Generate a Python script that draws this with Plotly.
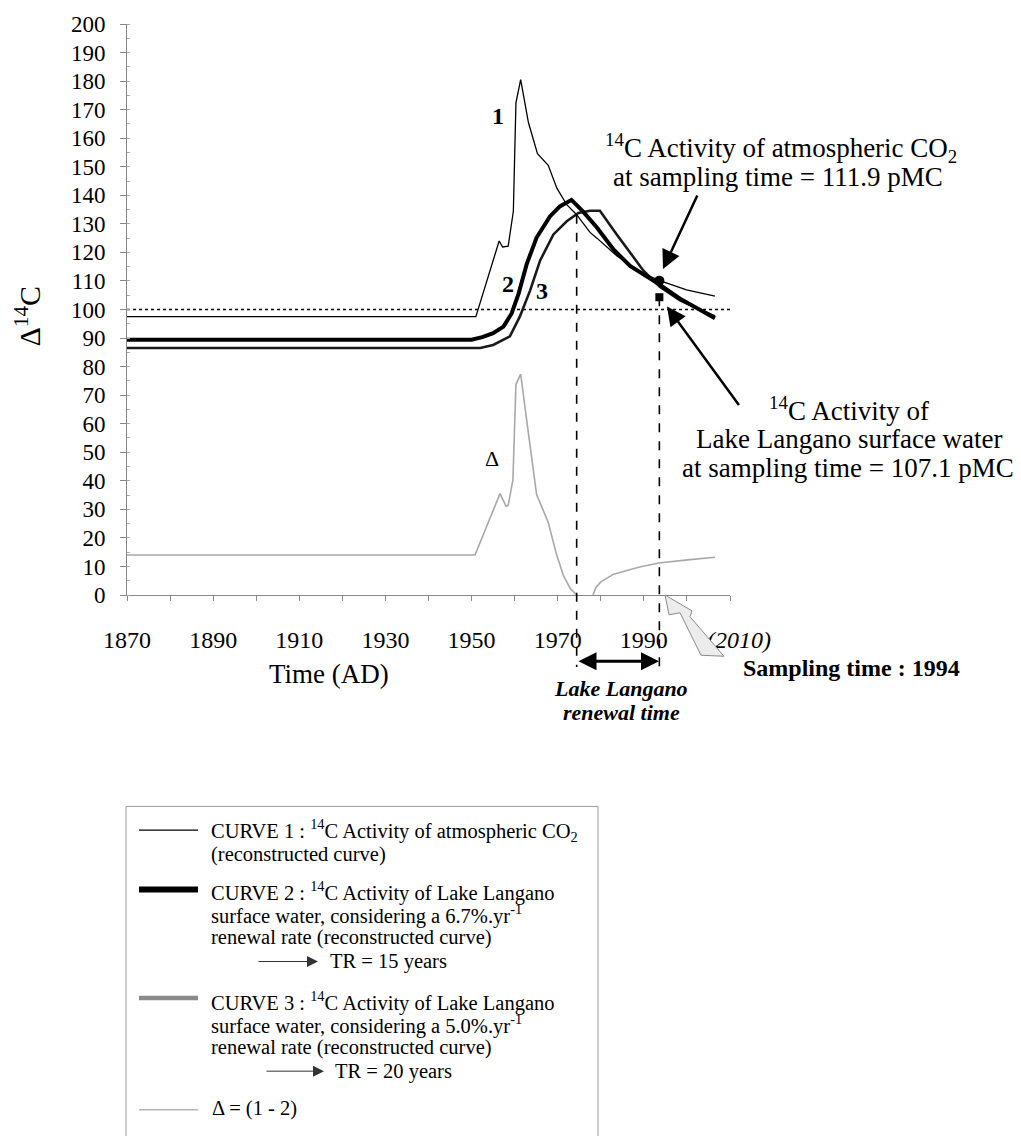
import plotly.graph_objects as go

# ---------------- data ----------------
yr_c1 = [1870, 1951.0, 1956.4, 1957.2, 1958.5, 1959.7, 1960.3, 1961.4, 1963.2, 1965.3,
         1967.8, 1969.8, 1972.1, 1974.4, 1977.5, 1979.1, 1983.7, 1989.1, 1993.7, 1999.9, 2006.5]
c1 = [97.5, 97.5, 124.0, 121.9, 122.2, 134.4, 172.4, 180.5, 165.5, 154.6,
      150.5, 142.5, 136.7, 133.2, 127.0, 125.0, 118.8, 113.1, 110.1, 106.9, 104.7]

yr_c2 = [1870, 1950.0, 1952.5, 1955.0, 1957.4, 1959.3, 1960.9, 1962.8, 1965.1, 1968.2, 1970.5,
         1973.2, 1975.9, 1979.1, 1982.9, 1986.8, 1993.4, 1998.4, 2006.5]
c2 = [89.4, 89.4, 90.3, 91.7, 94.0, 98.6, 105.5, 115.9, 125.2, 132.6, 136.1,
      138.4, 134.3, 128.7, 121.1, 115.3, 109.0, 103.8, 96.9]

yr_c3 = [1870, 1952.0, 1955.0, 1958.9, 1961.2, 1963.6, 1965.9, 1969.0, 1972.1, 1974.8, 1977.5,
         1979.8, 1983.7, 1986.8, 1989.9, 1993.7, 1998.4, 2006.5]
c3 = [86.5, 86.5, 87.6, 90.6, 97.5, 106.7, 117.1, 126.3, 130.9, 133.8, 134.6,
      134.6, 126.3, 120.0, 113.6, 108.0, 103.2, 97.6]

yr_d1 = [1870, 1950.8, 1956.6, 1958.0, 1958.5, 1959.6, 1960.3, 1961.4, 1962.9, 1965.1,
         1967.8, 1969.8, 1971.3, 1972.9, 1974.4]
d1 = [14.0, 14.0, 35.5, 31.1, 31.4, 40.3, 73.8, 77.4, 60.0, 35.2,
      25.4, 13.8, 6.9, 2.3, 0.0]
yr_d2 = [1978.2, 1978.8, 1980.0, 1983.0, 1989.0, 1993.5, 2000.7, 2006.5]
d2 = [0.0, 2.5, 4.6, 7.3, 9.8, 11.2, 12.4, 13.2]

ref_level = 100
renewal_year = 1974.4
sampling_year = 1993.6
atm_at_sampling = 110.1
lake_at_sampling = 104.3
renewal_top = 133.2

x_tickvals = [1870, 1890, 1910, 1930, 1950, 1970, 1990, 2010]
x_ticktext = ["1870", "1890", "1910", "1930", "1950", "1970", "1990",
              "\u00a0\u00a0\u00a0<i>(2010)</i>"]
y_tickvals = list(range(0, 201, 10))

# ---------------- layout helpers ----------------
W, H = 1021, 1136
L, R, T, B = 127, 730, 17, 595
XMIN, XMAX, YMIN, YMAX = 1870, 2010, 0, 200
FONT = "Liberation Serif, Times New Roman, serif"


def px(x):
    return (x - L) / (R - L)


def py(y):
    return (B - y) / (B - T)


def xp(year):
    return (year - XMIN) / (XMAX - XMIN)


def yp(v):
    return (v - YMIN) / (YMAX - YMIN)


fig = go.Figure()
fig.add_trace(go.Scatter(x=[XMIN, XMAX], y=[ref_level, ref_level], mode="lines",
                         line=dict(color="black", width=1.3, dash="dot"), hoverinfo="skip"))
fig.add_trace(go.Scatter(x=yr_d1, y=d1, mode="lines", line=dict(color="#a8a8a8", width=1.6)))
fig.add_trace(go.Scatter(x=yr_d2, y=d2, mode="lines", line=dict(color="#a8a8a8", width=1.6)))
fig.add_trace(go.Scatter(x=yr_c3, y=c3, mode="lines", line=dict(color="#1a1a1a", width=2.6)))
fig.add_trace(go.Scatter(x=yr_c2, y=c2, mode="lines", line=dict(color="black", width=4)))
fig.add_trace(go.Scatter(x=yr_c1, y=c1, mode="lines", line=dict(color="black", width=1.3)))
fig.add_trace(go.Scatter(x=[sampling_year], y=[atm_at_sampling], mode="markers",
                         marker=dict(symbol="circle", size=10, color="black")))
fig.add_trace(go.Scatter(x=[sampling_year], y=[lake_at_sampling], mode="markers",
                         marker=dict(symbol="square", size=8, color="black")))

shapes = []
# dashed verticals
shapes.append(dict(type="line", xref="paper", yref="paper", x0=xp(renewal_year), x1=xp(renewal_year),
                   y0=yp(renewal_top), y1=py(668), line=dict(color="black", width=1.6, dash="dash")))
shapes.append(dict(type="line", xref="paper", yref="paper", x0=xp(sampling_year), x1=xp(sampling_year),
                   y0=yp(lake_at_sampling), y1=py(668), line=dict(color="black", width=1.6, dash="dash")))

# grey block arrow pointing to the sampling date on the axis
blk = [(665, 595), (669, 615), (680, 613), (701, 656), (724, 657),
       (690, 617), (692, 611)]
path = "M " + " L ".join(f"{px(a):.5f},{py(b):.5f}" for a, b in blk) + " Z"
shapes.append(dict(type="path", xref="paper", yref="paper", path=path,
                   fillcolor="#ececec", line=dict(color="#8a8a8a", width=1)))

# legend box
shapes.append(dict(type="rect", xref="paper", yref="paper", x0=px(126), x1=px(598),
                   y0=py(1145), y1=py(809), line=dict(color="#9a9a9a", width=1)))
for ly, col, wd in [(833, "black", 1.3), (893, "black", 6), (1003, "#8a8a8a", 4.5), (1116, "#b5b5b5", 1.6)]:
    shapes.append(dict(type="line", xref="paper", yref="paper", x0=px(139), x1=px(198),
                       y0=py(ly), y1=py(ly), line=dict(color=col, width=wd)))

ann = []


def text(x, y, s, size, xanchor="center", bold=False, italic=False, angle=0):
    if bold:
        s = "<b>" + s + "</b>"
    if italic:
        s = "<i>" + s + "</i>"
    ann.append(dict(x=px(x), y=py(y), xref="paper", yref="paper", text=s, showarrow=False,
                    xanchor=xanchor, yanchor="middle", textangle=angle,
                    font=dict(family=FONT, size=size, color="black")))


def arrow(tx, ty, sx, sy, width=2.5, size=1.5, color="black", side="end"):
    ann.append(dict(x=px(tx), y=py(ty), xref="paper", yref="paper", text="", showarrow=True,
                    ax=sx - tx, ay=sy - ty, axref="pixel", ayref="pixel",
                    arrowhead=2, arrowsize=size, arrowwidth=width, arrowcolor=color,
                    arrowside=side, standoff=0, startstandoff=0))


# axis titles
text(28, 313, "Δ<sup>14</sup>C", 30, angle=-90)
text(329, 675, "Time (AD)", 27)

# curve labels
text(498, 110, "1", 24, bold=True)
text(508, 280, "2", 24, bold=True)
text(542, 287, "3", 24, bold=True)
text(492, 457, "Δ", 22)

# annotations
text(781, 143, "<sup>14</sup>C Activity of atmospheric CO<sub>2</sub>", 27)
text(778, 172, "at sampling time = 111.9 pMC", 27)
arrow(663, 265, 698, 190)
text(849, 407, "<sup>14</sup>C Activity of", 27)
text(849, 437, "Lake Langano surface water", 27)
text(848, 466, "at sampling time = 107.1 pMC", 27)
arrow(667, 303, 740, 403)

text(851, 669, "Sampling time : 1994", 24, bold=True)
arrow(659, 662, 577, 662, width=3, size=1.2, side="end+start")
text(621, 690, "Lake Langano", 22, bold=True, italic=True)
text(621, 714, "renewal time", 22, bold=True, italic=True)

# legend texts
LX = 209
LS = 20.5
text(LX, 833, "CURVE 1 : <sup>14</sup>C Activity of atmospheric CO<sub>2</sub>", LS, xanchor="left")
text(LX, 858, "(reconstructed curve)", LS, xanchor="left")
text(LX, 895, "CURVE 2 : <sup>14</sup>C Activity of Lake Langano", LS, xanchor="left")
text(LX, 918, "surface water, considering a 6.7%.yr<sup>-1</sup>", LS, xanchor="left")
text(LX, 942, "renewal rate (reconstructed curve)", LS, xanchor="left")
arrow(318, 966, 257, 966, width=1, size=2.2, color="#333333")
text(328, 966, "TR = 15 years", LS, xanchor="left")
text(LX, 1006, "CURVE 3 : <sup>14</sup>C Activity of Lake Langano", LS, xanchor="left")
text(LX, 1030, "surface water, considering a 5.0%.yr<sup>-1</sup>", LS, xanchor="left")
text(LX, 1053, "renewal rate (reconstructed curve)", LS, xanchor="left")
arrow(324, 1077, 265, 1077, width=1, size=2.2, color="#333333")
text(333, 1077, "TR = 20 years", LS, xanchor="left")
text(210, 1115, "Δ = (1 - 2)", LS, xanchor="left")

fig.update_layout(
    width=W, height=H,
    margin=dict(l=L, r=W - R, t=T, b=H - B, pad=0),
    paper_bgcolor="white", plot_bgcolor="white",
    showlegend=False,
    font=dict(family=FONT, size=24, color="black"),
    shapes=shapes, annotations=ann,
    xaxis=dict(range=[XMIN, XMAX], tickmode="array", tickvals=x_tickvals, ticktext=x_ticktext,
               ticks="outside", ticklen=5, tickcolor="#888", tickwidth=1,
               minor=dict(dtick=10, tick0=1870, ticks="outside", ticklen=5, tickcolor="#888"),
               showline=True, linecolor="#888", linewidth=1, showgrid=False, zeroline=False,
               tickfont=dict(family=FONT, size=24, color="black"), ticklabelstandoff=18),
    yaxis=dict(range=[YMIN, YMAX], tickmode="array", tickvals=y_tickvals,
               ticks="outside", ticklen=6, tickcolor="#888", tickwidth=1,
               minor=dict(dtick=5, ticks="inside", ticklen=3, tickcolor="#aaa"),
               showline=True, linecolor="#888", linewidth=1, showgrid=False, zeroline=False,
               tickfont=dict(family=FONT, size=23, color="black"), ticklabelstandoff=10),
)

fig.write_html("out.html", config={"displayModeBar": False},
               post_script="document.body.style.margin='0';")
